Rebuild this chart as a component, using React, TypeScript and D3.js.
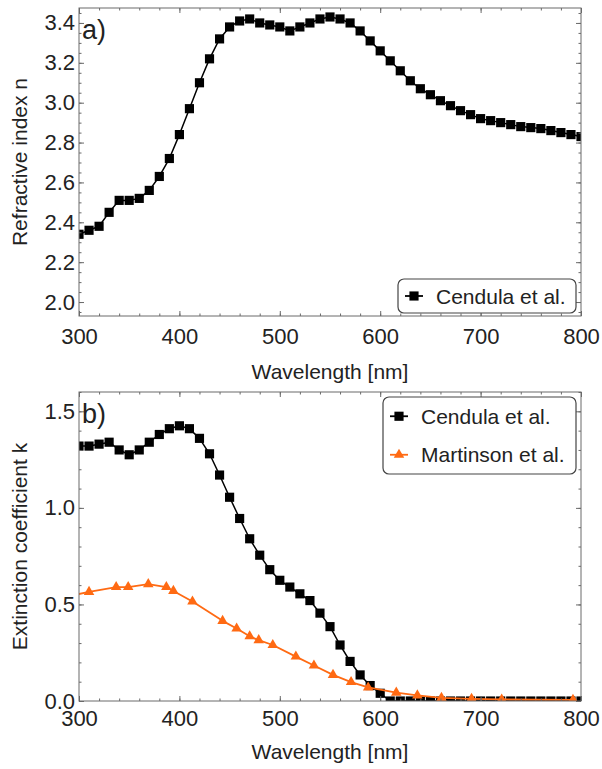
import React, { useEffect, useRef } from "react";
import * as d3 from "d3";

// wavelength grid of the Cendula et al. data [nm]
const wlCendula = [
  300, 310, 320, 330, 340, 350, 360, 370, 380, 390, 400, 410, 420, 430, 440, 450, 460,
  470, 480, 490, 500, 510, 520, 530, 540, 550, 560, 570, 580, 590, 600, 610, 620, 630,
  640, 650, 660, 670, 680, 690, 700, 710, 720, 730, 740, 750, 760, 770, 780, 790, 800,
];

// refractive index n (panel a)
const nCendula = [
  2.34, 2.36, 2.38, 2.45, 2.51, 2.51, 2.52, 2.56, 2.63, 2.72, 2.84, 2.97, 3.1, 3.22, 3.32,
  3.38, 3.41, 3.42, 3.4, 3.39, 3.38, 3.36, 3.38, 3.4, 3.42, 3.43, 3.42, 3.4, 3.36, 3.31,
  3.26, 3.21, 3.16, 3.11, 3.07, 3.04, 3.01, 2.985, 2.96, 2.94, 2.92, 2.91, 2.9, 2.89, 2.88,
  2.875, 2.87, 2.86, 2.85, 2.84, 2.83,
];

// extinction coefficient k (panel b)
const kCendula = [
  1.32, 1.32, 1.33, 1.34, 1.3, 1.275, 1.3, 1.34, 1.38, 1.41, 1.425, 1.41, 1.36, 1.28, 1.17,
  1.055, 0.945, 0.84, 0.755, 0.68, 0.625, 0.59, 0.555, 0.52, 0.455, 0.385, 0.29, 0.205,
  0.135, 0.08, 0.04, 0, 0, 0, 0, 0, 0, 0, 0, 0, 0, 0, 0, 0, 0, 0, 0, 0, 0, 0, 0,
];

const wlMartinson = [
  292, 310, 337, 349, 369, 387, 394, 413, 443, 457, 470, 479, 493, 516, 534, 553, 571, 588,
  616, 637, 661, 691, 721, 792,
];
const kMartinson = [
  0.545, 0.565, 0.59, 0.59, 0.605, 0.59, 0.57, 0.515, 0.415, 0.375, 0.335, 0.315, 0.29,
  0.23, 0.184, 0.135, 0.098, 0.07, 0.043, 0.029, 0.016, 0.011, 0.008, 0.006,
];

const xMajor = [300, 400, 500, 600, 700, 800];
const nMajor = [2.0, 2.2, 2.4, 2.6, 2.8, 3.0, 3.2, 3.4];
const kMajor = [0.0, 0.5, 1.0, 1.5];

const W = 602;
const H = 769;
const FONT = "'Liberation Sans', Arial, Helvetica, sans-serif";
const ORANGE = "#ff6a13";
const FRAME = "#6a6a6a";

export default function App() {
  const ref = useRef<SVGSVGElement>(null);

  useEffect(() => {
    const svg = d3.select(ref.current);
    svg.selectAll("*").remove();

    const left = 79, right = 581;
    const x = d3.scaleLinear().domain([300, 800]).range([left, right]);
    const xMinor = d3.range(300, 801, 20);

    const panels = [
      {
        id: "a", top: 8, bottom: 316, domain: [1.93, 3.475], major: nMajor,
        minorStep: 0.05, fmt: d3.format(".1f"), title: "Refractive index n", letter: "a)",
        letterY: 39, xPad: 12, titleY: 379,
        series: [
          { wl: wlCendula, v: nCendula, color: "#000", marker: "square", name: "Cendula et al." },
        ],
        legend: { x0: 398, y0: 279, x1: 576, y1: 313 },
      },
      {
        id: "b", top: 392, bottom: 701, domain: [0, 1.6], major: kMajor,
        minorStep: 0.1, fmt: d3.format(".1f"), title: "Extinction coefficient k", letter: "b)",
        letterY: 423, xPad: 9, titleY: 759,
        series: [
          { wl: wlCendula, v: kCendula, color: "#000", marker: "square", name: "Cendula et al." },
          { wl: wlMartinson, v: kMartinson, color: ORANGE, marker: "triangle", name: "Martinson et al." },
        ],
        legend: { x0: 383, y0: 397, x1: 576, y1: 474 },
      },
    ];

    const symbolPath = (m: string) =>
      m === "square"
        ? d3.symbol().type(d3.symbolSquare).size(84)()
        : d3.symbol().type(d3.symbolTriangle).size(48)();

    panels.forEach((p) => {
      const y = d3.scaleLinear().domain(p.domain).range([p.bottom, p.top]);
      const g = svg.append("g");
      const yMinor = d3.range(
        Math.ceil(p.domain[0] / p.minorStep - 1e-9) * p.minorStep,
        p.domain[1] + 1e-9,
        p.minorStep
      );

      // clip for data
      svg.append("clipPath").attr("id", "clip-" + p.id)
        .append("rect").attr("x", left).attr("y", p.top)
        .attr("width", right - left).attr("height", p.bottom - p.top);

      const data = g.append("g").attr("clip-path", `url(#clip-${p.id})`);
      p.series.forEach((s) => {
        const pts = s.wl.map((w, i) => [w, s.v[i]] as [number, number]);
        const line = d3.line<[number, number]>().x((d) => x(d[0])).y((d) => y(d[1]));
        data.append("path").attr("d", line(pts)).attr("fill", "none")
          .attr("stroke", s.color).attr("stroke-width", s.marker === "square" ? 1.5 : 1.8)
          .attr("stroke-linejoin", "round");
        data.selectAll(null).data(pts).enter().append("path")
          .attr("d", symbolPath(s.marker))
          .attr("transform", (d) => `translate(${x(d[0])},${y(d[1])})`)
          .attr("fill", s.color);
      });

      // axes with inward ticks on all four sides
      const axisStyle = (sel: any) => {
        sel.select(".domain").remove();
        sel.selectAll("line").attr("stroke", FRAME);
        sel.selectAll("text").attr("font-family", FONT).attr("font-size", 22).attr("fill", "#222");
      };
      g.append("g").attr("transform", `translate(0,${p.bottom})`)
        .call(d3.axisBottom(x).tickValues(xMajor).tickSize(-5).tickPadding(p.xPad).tickFormat(d3.format("d")))
        .call(axisStyle);
      g.append("g").attr("transform", `translate(0,${p.bottom})`)
        .call(d3.axisBottom(x).tickValues(xMinor).tickSize(-2.5).tickFormat(() => ""))
        .call(axisStyle);
      g.append("g").attr("transform", `translate(0,${p.top})`)
        .call(d3.axisTop(x).tickValues(xMajor).tickSize(-5).tickFormat(() => ""))
        .call(axisStyle);
      g.append("g").attr("transform", `translate(0,${p.top})`)
        .call(d3.axisTop(x).tickValues(xMinor).tickSize(-2.5).tickFormat(() => ""))
        .call(axisStyle);
      g.append("g").attr("transform", `translate(${left},0)`)
        .call(d3.axisLeft(y).tickValues(p.major).tickSize(-5).tickPadding(4).tickFormat(p.fmt as any))
        .call(axisStyle);
      g.append("g").attr("transform", `translate(${left},0)`)
        .call(d3.axisLeft(y).tickValues(yMinor).tickSize(-2.5).tickFormat(() => ""))
        .call(axisStyle);
      g.append("g").attr("transform", `translate(${right},0)`)
        .call(d3.axisRight(y).tickValues(p.major).tickSize(-5).tickFormat(() => ""))
        .call(axisStyle);
      g.append("g").attr("transform", `translate(${right},0)`)
        .call(d3.axisRight(y).tickValues(yMinor).tickSize(-2.5).tickFormat(() => ""))
        .call(axisStyle);

      g.append("rect").attr("x", left).attr("y", p.top)
        .attr("width", right - left).attr("height", p.bottom - p.top)
        .attr("fill", "none").attr("stroke", FRAME).attr("stroke-width", 1);

      // panel letter
      g.append("text").attr("x", 82).attr("y", p.letterY).text(p.letter)
        .attr("font-family", FONT).attr("font-size", 27).attr("fill", "#222");

      // axis titles
      g.append("text").attr("x", (left + right) / 2).attr("y", p.titleY)
        .attr("text-anchor", "middle").attr("font-family", FONT).attr("font-size", 21)
        .attr("fill", "#222").text("Wavelength [nm]");
      g.append("text")
        .attr("transform", `translate(27,${(p.top + p.bottom) / 2}) rotate(-90)`)
        .attr("text-anchor", "middle").attr("font-family", FONT).attr("font-size", 21)
        .attr("fill", "#222").text(p.title);

      // legend
      const L = p.legend;
      g.append("rect").attr("x", L.x0).attr("y", L.y0)
        .attr("width", L.x1 - L.x0).attr("height", L.y1 - L.y0).attr("rx", 6)
        .attr("fill", "#fff").attr("stroke", "#444").attr("stroke-width", 1.2);
      const rowH = (L.y1 - L.y0) / p.series.length;
      p.series.forEach((s, i) => {
        const cy = L.y0 + rowH * (i + 0.5);
        const lx = L.x0 + 7;
        g.append("line").attr("x1", lx).attr("x2", lx + 18).attr("y1", cy).attr("y2", cy)
          .attr("stroke", s.color).attr("stroke-width", 1.8);
        g.append("path").attr("d", symbolPath(s.marker))
          .attr("transform", `translate(${lx + 9},${cy})`).attr("fill", s.color);
        g.append("text").attr("x", lx + 31).attr("y", cy + 7.5).text(s.name)
          .attr("font-family", FONT).attr("font-size", 21).attr("fill", "#222");
      });
    });
  }, []);

  return (
    <svg ref={ref} width={W} height={H}
      style={{ position: "absolute", left: 0, top: 0, background: "#fff" }} />
  );
}
